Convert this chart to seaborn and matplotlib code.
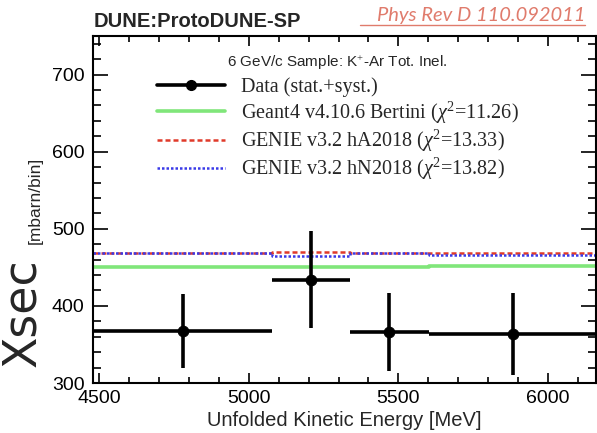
import numpy as np
import pandas as pd
import matplotlib
matplotlib.use('Agg')
import matplotlib.pyplot as plt
import seaborn as sns
from matplotlib.lines import Line2D
from matplotlib.ticker import MultipleLocator

# bins in unfolded kinetic energy [MeV]
bin_edges = [4480, 5077, 5337, 5603, 6160]
bin_centers = [4779, 5207, 5470, 5882]

# measured cross section [mbarn/bin]
data_xsec = [367, 434, 366, 364]
data_err = [48, 63, 51, 53]

# model predictions per bin
geant4 = [451, 451, 451, 452]
genie_ha = [469, 470, 468, 468]
genie_hn = [468, 465, 468, 466]

labels = ['Data (stat.+syst.)',
          'Geant4 v4.10.6 Bertini ($\\chi^{2}$=11.26)',
          'GENIE v3.2 hA2018 ($\\chi^{2}$=13.33)',
          'GENIE v3.2 hN2018 ($\\chi^{2}$=13.82)']

sns.set_theme(style='ticks')
plt.rcParams['font.family'] = ['Liberation Sans', 'DejaVu Sans']
plt.rcParams['mathtext.fontset'] = 'custom'
plt.rcParams['mathtext.rm'] = 'Liberation Serif'
plt.rcParams['mathtext.it'] = 'Liberation Serif:italic'

fig = plt.figure(figsize=(5.97, 4.33), dpi=100)
ax = fig.add_axes([93 / 597, 50 / 433, 503 / 597, 347 / 433])

green = '#80e67a'
red = '#e03a2a'
blue = '#3a3ae8'


def steps(vals):
    return pd.DataFrame({'E': bin_edges, 'xsec': list(vals) + [vals[-1]]})


sns.lineplot(data=steps(geant4), x='E', y='xsec', drawstyle='steps-post',
             color=green, lw=2.6, ax=ax)
sns.lineplot(data=steps(genie_ha), x='E', y='xsec', drawstyle='steps-post',
             color=red, lw=1.8, dashes=(2.0, 1.2), ax=ax)
sns.lineplot(data=steps(genie_hn), x='E', y='xsec', drawstyle='steps-post',
             color=blue, lw=1.8, dashes=(1.0, 0.8), ax=ax)

lo = np.array(bin_centers) - np.array(bin_edges[:-1])
hi = np.array(bin_edges[1:]) - np.array(bin_centers)
ax.errorbar(bin_centers, data_xsec, xerr=[lo, hi], yerr=data_err, fmt='none',
            ecolor='black', elinewidth=2.6, capsize=0)
sns.scatterplot(x=bin_centers, y=data_xsec, color='black', s=60,
                edgecolor='black', zorder=5, ax=ax)

ax.set_xlim(4480, 6160)
ax.set_ylim(300, 750)
ax.xaxis.set_major_locator(MultipleLocator(500))
ax.xaxis.set_minor_locator(MultipleLocator(100))
ax.yaxis.set_major_locator(MultipleLocator(100))
ax.yaxis.set_minor_locator(MultipleLocator(20))
ax.tick_params(which='both', direction='in', top=True, right=True,
               labelsize=14, colors='black', width=1.2)
ax.tick_params(axis='y', which='major', length=11)
ax.tick_params(axis='y', which='minor', length=5.5)
ax.tick_params(axis='x', which='major', length=7)
ax.tick_params(axis='x', which='minor', length=4)
ax.tick_params(axis='x', pad=5)
ax.tick_params(axis='y', pad=6)
for s in ax.spines.values():
    s.set_linewidth(1.5)
    s.set_color('black')

ax.set_xlabel('Unfolded Kinetic Energy [MeV]', fontsize=14.5, labelpad=3)
ax.set_ylabel('')

fig.text(45 / 597, 1 - 313 / 433, 'Xsec', rotation=90, fontsize=33,
         family=['DejaVu Sans'], ha='right', va='center')
fig.text(43 / 597, 1 - 200 / 433, '[mbarn/bin]', rotation=90, fontsize=12.5,
         ha='right', va='center')

handles = [Line2D([], [], color='black', lw=2.6, marker='o', ms=7),
           Line2D([], [], color=green, lw=2.6),
           Line2D([], [], color=red, lw=1.8, dashes=(2.0, 1.2)),
           Line2D([], [], color=blue, lw=1.8, dashes=(1.0, 0.8))]
leg = ax.legend(handles, labels, loc='upper left',
                bbox_to_anchor=(157 / 597, 1 - 54 / 433),
                bbox_transform=fig.transFigure, frameon=False,
                title='6 GeV/c Sample: K$^{+}$-Ar Tot. Inel.',
                title_fontproperties={'family': 'Liberation Sans', 'size': 11},
                prop={'family': 'Liberation Serif', 'size': 14.5},
                handlelength=3.4, handletextpad=0.75, labelspacing=0.1,
                borderpad=0, borderaxespad=0)
leg._legend_box.sep = 4

fig.text(94 / 597, 1 - 27 / 433, 'DUNE:ProtoDUNE-SP', fontsize=14.5,
         fontweight='bold', ha='left', va='baseline')
link = fig.text(585 / 597, 1 - 21 / 433, 'Phys Rev D 110.092011', fontsize=14.5,
                style='italic', color='#e07b6c', ha='right', va='baseline',
                family=['Lato', 'DejaVu Sans'])
fig.add_artist(Line2D([360 / 597, 585 / 597], [1 - 25 / 433, 1 - 25 / 433],
                      color='#e07b6c', lw=1.0, transform=fig.transFigure))

fig.savefig('out.png', dpi=100)
